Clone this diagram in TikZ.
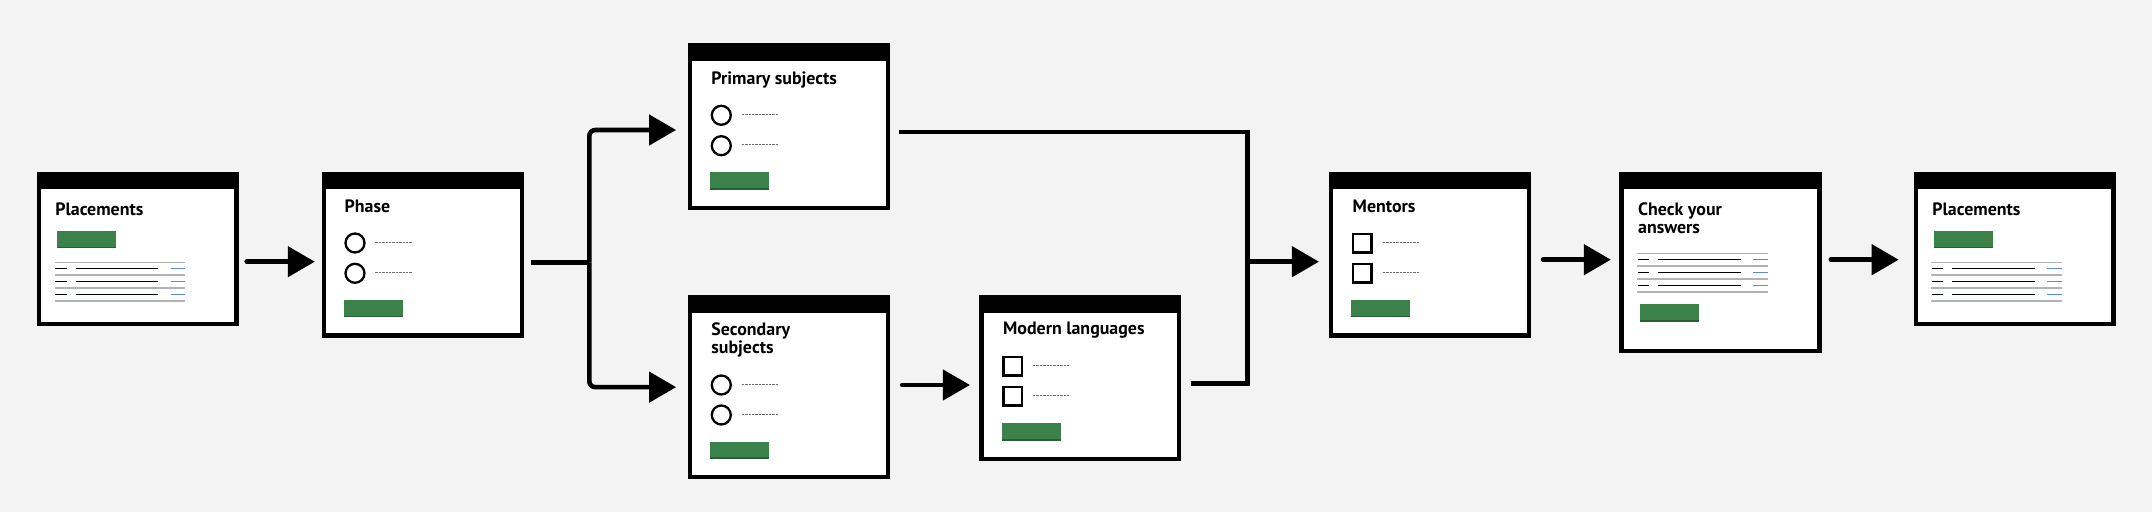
\documentclass[tikz,border=0pt]{standalone}
\usepackage{fontspec}
\newfontfamily\screenfont{PT Sans}
\usetikzlibrary{arrows.meta,positioning}

\definecolor{pagebg}{RGB}{243,243,243}
\definecolor{govgreen}{RGB}{59,130,74}
\definecolor{govshadow}{RGB}{40,95,52}
\definecolor{rulegrey}{RGB}{177,180,182}
\definecolor{linkblue}{RGB}{95,135,225}
\definecolor{dotgrey}{RGB}{110,110,110}

\tikzset{
  screen/.style={draw, line width=2.15pt, fill=white, minimum width=98.9pt, inner sep=0pt,
    path picture={\fill[black] (path picture bounding box.north west) rectangle ([yshift=-7.7pt]path picture bounding box.north east);}},
  title/.style={anchor=base west, inner sep=0pt, align=left, font=\screenfont\bfseries\fontsize{8.95}{9}\selectfont},
  link/.style={line width=2.3pt},
  flow/.style={link, line cap=round, -{Triangle[length=13.5pt,width=15pt]}},
  radio/.style={line width=1.15pt},
  tickbox/.style={line width=1.25pt},
  dots/.style={dotgrey, line width=0.5pt, dash pattern=on 1.2pt off 0.5pt},
}

\newcommand{\button}[2]{\fill[govgreen] (#1,#2) rectangle ++(58.7,17.3);
  \draw[govshadow, line width=0.75pt] (#1,#2+16.55) -- ++(58.7,0);}
\newcommand{\summarylist}[2]{%
  \begin{scope}[shift={(#1,#2)}]
    \foreach \y in {0,12.9,25.8,38.7}
      \draw[rulegrey, line width=0.7pt] (0,\y) -- (130.3,\y);
    \foreach \y in {6.4,19.35,32.2} {
      \draw[line width=0.8pt] (0.6,\y) -- (12,\y);
      \draw[line width=0.8pt] (21,\y) -- (103.3,\y);
      \draw[linkblue, line width=0.8pt] (116,\y) -- (130.3,\y);
    }
  \end{scope}}

\begin{document}
\begin{tikzpicture}[x=0.5pt,y=-0.5pt]
\fill[pagebg] (0,0) rectangle (2152,512);
\useasboundingbox (0,0) rectangle (2152,512);

% screens
\node[screen, minimum height=75pt] (place1) at (137.7,248.85) {};
\node[screen, minimum height=80.85pt] (phase) at (422.85,254.7) {};
\node[screen, minimum height=81.35pt] (primary) at (788.85,126.8) {};
\node[screen, minimum height=90pt] (secondary) at (788.85,387.15) {};
\node[screen, minimum height=81pt] (modern) at (1080.3,378.15) {};
\node[screen, minimum height=80.85pt] (mentors) at (1430,254.7) {};
\node[screen, minimum height=88.65pt] (check) at (1720.5,262.5) {};
\node[screen, minimum height=75pt] (place2) at (2014.7,248.85) {};

% titles (two-line titles sit on their last baseline)
\node[title] (placeT1) at (55,215.7) {Placements};
\node[title] (phaseT) at (344.3,212.3) {Phase};
\node[title] (primaryT) at (711,85) {Primary subjects};
\node[title] (secondaryT) at (711,354) {Secondary\\subjects};
\node[title] (modernT) at (1002.7,335) {Modern languages};
\node[title] (mentorsT) at (1352.3,212.3) {Mentors};
\node[title] (checkT) at (1637.7,233.3) {Check your\\answers};
\node[title] (placeT2) at (1932,215.7) {Placements};

% placements
\button{57.3}{231}
\summarylist{54.7}{262.3}
% phase
\draw[radio] (355,243) circle[radius=9.5];
\draw[radio] (355,273.3) circle[radius=9.5];
\draw[dots] (375.3,242.7) -- (411.7,242.7);
\draw[dots] (375.3,272.7) -- (411.7,272.7);
\button{344}{300}
% primary
\draw[radio] (721.3,115.3) circle[radius=9.5];
\draw[radio] (721.3,145.7) circle[radius=9.5];
\draw[dots] (741.7,114.7) -- (777.7,114.7);
\draw[dots] (741.7,144.7) -- (777.7,144.7);
\button{710.3}{172.3}
% secondary
\draw[radio] (721.3,385) circle[radius=9.5];
\draw[radio] (721.3,415) circle[radius=9.5];
\draw[dots] (741.7,384.5) -- (777.7,384.5);
\draw[dots] (741.7,414.5) -- (777.7,414.5);
\button{710.3}{441.7}
% modern languages
\draw[tickbox] (1003.55,357.25) rectangle ++(18.5,18.5);
\draw[tickbox] (1003.55,387.25) rectangle ++(18.5,18.5);
\draw[dots] (1033,365.7) -- (1069,365.7);
\draw[dots] (1033,395.7) -- (1069,395.7);
\button{1002}{423.3}
% mentors
\draw[tickbox] (1352.95,233.95) rectangle ++(18.5,18.5);
\draw[tickbox] (1352.95,264.25) rectangle ++(18.5,18.5);
\draw[dots] (1382.7,242.7) -- (1418.7,242.7);
\draw[dots] (1382.7,272.7) -- (1418.7,272.7);
\button{1351.3}{300}
% check
\summarylist{1637.3}{253.3}
\button{1640}{304.3}
% placements again
\button{1934}{231}
\summarylist{1931.3}{262.3}

% connectors
\coordinate (split) at (589.3,262.7);
\coordinate (merge) at (1247.3,261.7);
\coordinate (rowA) at (0,261.7);
\coordinate (rowB) at (0,259.7);
\coordinate (rowS) at (0,385);
\draw[flow, shorten <=3.95pt, shorten >=3.5pt] (place1.east |- rowA) -- (phase.west |- rowA);
\draw[link, shorten <=3.65pt] (phase.east |- split) -- (split);
\draw[flow, line cap=butt, rounded corners=3pt, shorten >=5.85pt] (split) |- ([yshift=-1.6pt]primary.west);
\draw[flow, line cap=butt, rounded corners=3pt, shorten >=5.85pt] (split) |- (secondary.west);
\draw[link, shorten <=4.5pt, shorten >=4.85pt] ([yshift=-2.6pt]primary.east) -| (merge) |- ([yshift=-2.6pt]modern.east);
\draw[flow, shorten >=5pt] (merge) -- (mentors.west |- merge);
\draw[flow, shorten <=6.15pt, shorten >=4.65pt] (secondary.east |- rowS) -- (modern.west |- rowS);
\draw[flow, shorten <=6pt, shorten >=4.3pt] (mentors.east |- rowB) -- (check.west |- rowB);
\draw[flow, shorten <=4.65pt, shorten >=7.5pt] (check.east |- rowB) -- (place2.west |- rowB);
\end{tikzpicture}
\end{document}
